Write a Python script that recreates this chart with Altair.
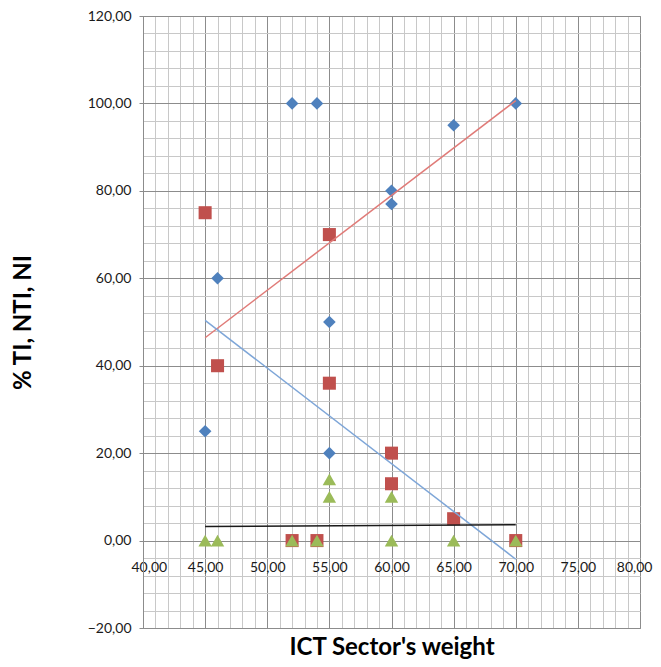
import altair as alt
import pandas as pd

# ---- data ----
x_vals = [45, 46, 52, 54, 55, 55, 60, 60, 65, 70]
ti = [25, 60, 100, 100, 50, 20, 80, 77, 95, 100]
nti = [75, 40, 0, 0, 36, 70, 20, 13, 5, 0]
ni = [0, 0, 0, 0, 14, 10, 0, 10, 0, 0]

series_names = ["TI", "NTI", "NI"]
marker_colors = ["#4F81BD", "#C0504D", "#9BBB59"]
marker_shapes = ["diamond", "square", "triangle-up"]
marker_sizes = [160, 180, 170]
trend_colors = {"TI": "#E07B78", "NTI": "#7EA6D8", "NI": "#1A1A1A"}

x_major = list(range(40, 81, 5))
x_minor = [v for v in range(40, 81) if v % 5 != 0]
y_major = list(range(-20, 121, 20))
y_minor = [v for v in range(-20, 121, 4) if v % 20 != 0]

rows = []
for name, vals in zip(series_names, [ti, nti, ni]):
    for xv, yv in zip(x_vals, vals):
        rows.append({"series": name, "x": xv, "y": yv})
df = pd.DataFrame(rows)

FONT = "Lato"
label_expr = "replace(format(datum.value, '.2f'), '.', ',')"
xscale = alt.Scale(domain=[40, 80], nice=False, zero=False)
yscale = alt.Scale(domain=[-20, 120], nice=False, zero=False)

base = alt.Chart(df)

# minor grid
minor = base.mark_point(opacity=0).encode(
    x=alt.X("x:Q", scale=xscale, axis=alt.Axis(values=x_minor, grid=True, gridColor="#C8C8C8",
            gridWidth=1, labels=False, ticks=False, domain=False, title=None, orient="bottom")),
    y=alt.Y("y:Q", scale=yscale, axis=alt.Axis(values=y_minor, grid=True, gridColor="#C8C8C8",
            gridWidth=1, labels=False, ticks=False, domain=False, title=None, orient="left")),
)

# major grid
major = base.mark_point(opacity=0).encode(
    x=alt.X("x:Q", scale=xscale, axis=alt.Axis(values=x_major, grid=True, gridColor="#8C8C8C",
            gridWidth=1, labels=False, ticks=False, domain=False, title=None, orient="bottom")),
    y=alt.Y("y:Q", scale=yscale, axis=alt.Axis(values=y_major, grid=True, gridColor="#8C8C8C",
            gridWidth=1, labels=False, ticks=False, domain=False, title=None, orient="left")),
)

# markers + labelled axes
points = base.mark_point(filled=True, opacity=1, strokeWidth=0).encode(
    x=alt.X("x:Q", scale=xscale, axis=alt.Axis(
        values=x_major, grid=False, labelExpr=label_expr, offset=-88, orient="bottom",
        domain=False, tickColor="#8C8C8C", tickSize=4, labelPadding=16,
        labelFlush=True, labelFlushOffset=12,
        labelFont=FONT, labelFontSize=14, labelColor="#1A1A1A",
        title="ICT Sector's weight", titleFont=FONT, titleFontSize=24, titleFontWeight="bold",
        titleColor="#000000", titlePadding=61)),
    y=alt.Y("y:Q", scale=yscale, axis=alt.Axis(
        values=y_major, grid=False, labelExpr=label_expr, orient="left",
        domainColor="#8C8C8C", tickColor="#8C8C8C", tickSize=4, labelPadding=8, labelFlush=False,
        labelFont=FONT, labelFontSize=14, labelColor="#1A1A1A",
        title="% TI, NTI, NI", titleFont=FONT, titleFontSize=24, titleFontWeight="bold",
        titleColor="#000000", titlePadding=52)),
    color=alt.Color("series:N", scale=alt.Scale(domain=series_names, range=marker_colors), legend=None),
    shape=alt.Shape("series:N", scale=alt.Scale(domain=series_names, range=marker_shapes), legend=None),
    size=alt.Size("series:N", scale=alt.Scale(domain=series_names, range=marker_sizes), legend=None),
)

trends = []
for name in series_names:
    t = base.transform_filter(alt.datum.series == name).transform_regression(
        "x", "y"
    ).mark_line(color=trend_colors[name], strokeWidth=1.5).encode(
        x=alt.X("x:Q", scale=xscale, axis=None),
        y=alt.Y("y:Q", scale=yscale, axis=None),
    )
    trends.append(t)

chart = alt.layer(minor, major, points, *trends).resolve_axis(
    x="independent", y="independent"
).properties(
    width=497, height=612,
    autosize=alt.AutoSizeParams(type="none"),
    padding={"left": 135, "top": 8, "right": 13, "bottom": 31},
).configure_view(stroke="#8C8C8C")

chart.save("out.html", embed_options={"renderer": "svg", "actions": False})
